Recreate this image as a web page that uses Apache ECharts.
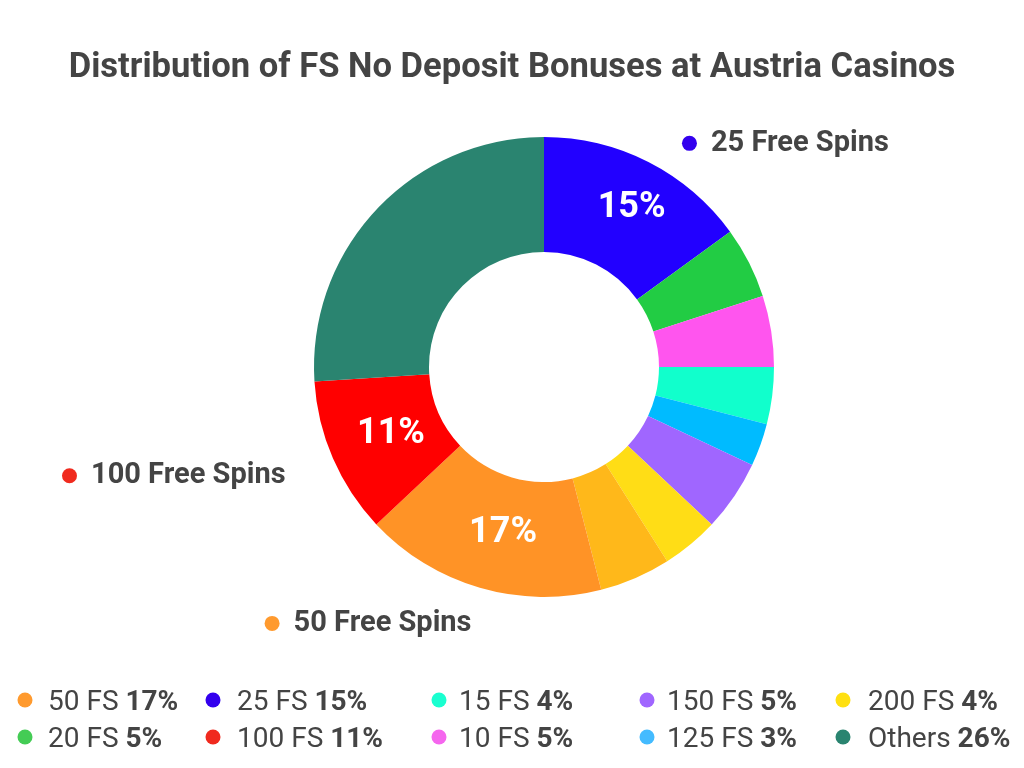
<!DOCTYPE html>
<html lang="en">
<head>
  <meta charset="UTF-8">
  <title>FS No Deposit Bonuses - Austria</title>
  <script src="https://cdn.jsdelivr.net/npm/echarts@6/dist/echarts.min.js"></script>
  <style>
    html, body { margin: 0; padding: 0; background: #fff; }
    #chart { width: 1024px; height: 768px; }
  </style>
</head>
<body>
<div id="chart"></div>

<script>
  // slices, clockwise from 12 o'clock
  const sliceNames = ['25 FS', '20 FS', '10 FS', '15 FS', '125 FS', '150 FS', '200 FS', 'Unlisted', '50 FS', '100 FS', 'Others'];
  const sliceValues = [15, 5, 5, 4, 3, 5, 4, 5, 17, 11, 26];
  const sliceColors = ['#2200ff', '#22cc44', '#ff55ee', '#11ffcc', '#00bbff', '#a066ff', '#ffdd16', '#ffb81a', '#ff9326', '#ff0000', '#2a8470'];

  // legend, column by column
  const legendColumns = [
    ['50 FS', '20 FS'],
    ['25 FS', '100 FS'],
    ['15 FS', '10 FS'],
    ['150 FS', '125 FS'],
    ['200 FS', 'Others']
  ];
  const legendColors = {
    '50 FS': '#ff9a2e', '20 FS': '#44cc55', '25 FS': '#3300ee', '100 FS': '#f02a1e',
    '15 FS': '#1affd0', '10 FS': '#f566ee', '150 FS': '#a066ff', '125 FS': '#44bbff',
    '200 FS': '#ffe011', 'Others': '#2a8470'
  };

  // slices with a callout and a percent label
  const calloutNames = ['25 FS', '100 FS', '50 FS'];
  const calloutTexts = ['25 Free Spins', '100 Free Spins', '50 Free Spins'];

  const textColor = '#444';
  const center = [544, 367];
  const radius = [115, 230];

  // label line geometry (hidden lines, they only place the callouts)
  const calloutLines = {
    '25 FS': { length: 21, length2: 19, gap: 5 },
    '100 FS': { length: 44, length2: 2, gap: 5 },
    '50 FS': { length: 37, length2: 0, gap: -2 }
  };
  const legendDotX = [25, 213, 439, 647, 843];
  const legendTextGap = [23, 24, 20, 20, 25];

  const chart = echarts.init(document.getElementById('chart'));

  const valueOf = {};
  sliceNames.forEach((n, i) => { valueOf[n] = sliceValues[i]; });

  const innerData = sliceNames.map((n, i) => ({
    name: n,
    value: sliceValues[i],
    itemStyle: { color: sliceColors[i] },
    label: { show: calloutNames.indexOf(n) >= 0 }
  }));

  const calloutRich = {
    t: { fontSize: 29, fontWeight: 'bold', color: textColor, padding: [0, 0, 0, 14], fontFamily: 'Roboto' }
  };
  calloutNames.forEach((n, i) => {
    calloutRich['d' + i] = { width: 15, height: 15, borderRadius: 7.5, backgroundColor: legendColors[n] };
  });

  const outerData = sliceNames.map((n, i) => {
    const k = calloutNames.indexOf(n);
    const item = { name: n, value: sliceValues[i], label: { show: k >= 0 } };
    if (k >= 0) {
      const c = calloutLines[n];
      item.label.distanceToLabelLine = c.gap;
      item.labelLine = { show: false, length: c.length, length2: c.length2 };
    }
    return item;
  });

  // the legend box starts at the dot's left edge (plus 5px padding)
  const legends = legendColumns.map((col, i) => {
    const w = 2 * (legendTextGap[i] - 5);
    return {
      orient: 'vertical',
      left: legendDotX[i] - 12.5,
      top: 677,
      itemWidth: w,
      itemHeight: 15,
      itemGap: 1,
      icon: 'circle',
      selectedMode: false,
      data: col.map(n => ({ name: n, itemStyle: { color: legendColors[n] } })),
      formatter: n => '{n|' + n + ' }{b|' + valueOf[n] + '%}',
      textStyle: {
        color: textColor,
        fontSize: 28,
        lineHeight: 30,
        padding: [6, 0, 0, 0],
        fontFamily: 'Roboto',
        rich: {
          n: { fontSize: 28, color: textColor, fontFamily: 'Roboto' },
          b: { fontSize: 28, fontWeight: 'bold', color: textColor, fontFamily: 'Roboto' }
        }
      }
    };
  });

  chart.setOption({
    backgroundColor: '#fff',
    animation: false,
    title: {
      text: 'Distribution of FS No Deposit Bonuses at Austria Casinos',
      left: 'center',
      top: 46,
      textStyle: { color: textColor, fontSize: 34.6, fontWeight: 'bold', fontFamily: 'Roboto' }
    },
    legend: legends,
    series: [
      {
        name: 'share',
        type: 'pie',
        center: center,
        radius: radius,
        startAngle: 90,
        clockwise: true,
        avoidLabelOverlap: false,
        emphasis: { disabled: true },
        label: {
          position: 'inside',
          formatter: p => p.value + '%',
          color: '#fff',
          fontSize: 36,
          fontWeight: 'bold',
          fontFamily: 'Roboto',
          offset: [8, -3]
        },
        labelLine: { show: false },
        data: innerData
      },
      {
        name: 'callouts',
        type: 'pie',
        center: center,
        radius: radius,
        startAngle: 90,
        clockwise: true,
        silent: true,
        avoidLabelOverlap: false,
        emphasis: { disabled: true },
        itemStyle: { color: 'rgba(0,0,0,0)' },
        label: {
          position: 'outside',
          distanceToLabelLine: 5,
          formatter: p => {
            const k = calloutNames.indexOf(p.name);
            return '{d' + k + '| }{t|' + calloutTexts[k] + '}';
          },
          rich: calloutRich
        },
        labelLine: { show: false },
        data: outerData
      }
    ]
  });
</script>
</body>
</html>
